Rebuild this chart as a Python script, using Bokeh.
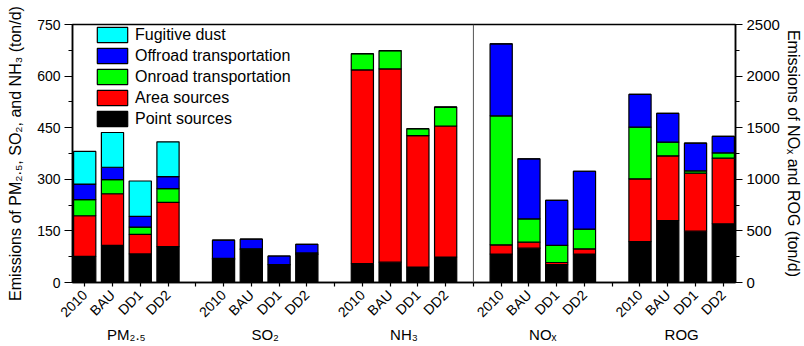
import math
from bokeh.plotting import figure
from bokeh.models import (ColumnDataSource, Range1d, LinearAxis, FixedTicker, Span,
                          Legend, LegendItem)
from bokeh.embed import file_html
from bokeh.resources import INLINE

# ---------------- data ----------------
scenarios = ["2010", "BAU", "DD1", "DD2"]
pollutants = ["PM\u2082.\u2085", "SO\u2082", "NH\u2083", "NO\u2093", "ROG"]
sources = ["Point sources", "Area sources", "Onroad transportation",
           "Offroad transportation", "Fugitive dust"]

# values per pollutant group (2010, BAU, DD1, DD2); PM2.5, SO2, NH3 on left axis, NOx, ROG on right axis
point_src = [76, 108, 83, 104,   66, 96, 52, 82,   55, 59, 45, 74,   275, 333, 174, 275,   397, 601, 497, 569]
area_src = [118, 150, 57, 129,   1, 1, 0, 1,       563, 562, 382, 381,  90, 58, 20, 51,     608, 626, 562, 636]
onroad = [47, 41, 21, 40,        3, 1, 0, 3,       47, 53, 20, 55,   1250, 226, 165, 191,   500, 133, 23, 51]
offroad = [45, 36, 31, 35,       53, 28, 25, 25,   0, 0, 0, 0,       698, 581, 436, 561,    317, 278, 268, 159]
fugitive = [95, 101, 103, 101,   0, 0, 0, 0,       0, 0, 0, 0,       0, 0, 0, 0,            0, 0, 0, 0]

left_ticks = [0, 150, 300, 450, 600, 750]
right_ticks = [0, 500, 1000, 1500, 2000, 2500]
n_left_groups = 3

colors = ["#000000", "#FF0000", "#00FF00", "#0000FF", "#00FFFF"]
FONT = "Liberation Sans"

# ---------------- layout helpers ----------------
n_sc = len(scenarios)
slot = n_sc + 1
xs = [g * slot + s for g in range(len(pollutants)) for s in range(n_sc)]
keys = ["point", "area", "onroad", "offroad", "fugitive"]
series = [point_src, area_src, onroad, offroad, fugitive]

nl = n_left_groups * n_sc
left_src = ColumnDataSource({"x": xs[:nl], **{k: v[:nl] for k, v in zip(keys, series)}})
right_src = ColumnDataSource({"x": xs[nl:], **{k: v[nl:] for k, v in zip(keys, series)}})

last_x = xs[-1]
p = figure(width=804, height=346, output_backend="svg", toolbar_location=None,
           x_range=Range1d(-0.44, last_x + 0.44),
           y_range=Range1d(left_ticks[0], left_ticks[-1]),
           min_border_left=72, min_border_right=68, min_border_top=24, min_border_bottom=64)
p.extra_y_ranges = {"r": Range1d(right_ticks[0], right_ticks[-1])}

p.xgrid.visible = False
p.ygrid.visible = False
p.outline_line_color = "black"
p.outline_line_width = 1.5
p.background_fill_color = "white"
p.border_fill_color = "white"

lr = p.vbar_stack(keys, x="x", width=0.8, source=left_src, fill_color=colors,
                  line_color="black", line_width=1.2)
rr = p.vbar_stack(keys, x="x", width=0.8, source=right_src, fill_color=colors,
                  line_color="black", line_width=1.2, y_range_name="r")

# separator between left-axis and right-axis groups
p.add_layout(Span(location=n_left_groups * slot - 1, dimension="height",
                  line_color="#555555", line_width=1))

# x axis (scenario labels)
all_slots = list(range(last_x + 1))
overrides = {}
for sl in all_slots:
    overrides[sl] = scenarios[sl % slot] if sl % slot < n_sc else ""
xa = p.below[0]
xa.ticker = FixedTicker(ticks=all_slots, minor_ticks=[])
xa.major_label_overrides = overrides
xa.major_label_orientation = math.pi / 4
xa.major_tick_out = 4
xa.major_tick_in = 0
xa.major_label_standoff = 6
xa.major_label_text_font = FONT
xa.major_label_text_font_size = "14px"
xa.major_label_text_color = "black"
xa.axis_line_color = "black"
xa.axis_line_width = 1.5
xa.major_tick_line_color = "black"
xa.major_tick_line_width = 1.2

# second x axis (pollutant group labels)
centers = [g * slot + (n_sc - 1) / 2 for g in range(len(pollutants))]
ga = LinearAxis(ticker=FixedTicker(ticks=centers, minor_ticks=[]),
                major_label_overrides={c: name for c, name in zip(centers, pollutants)})
ga.major_tick_out = 0
ga.major_tick_in = 0
ga.axis_line_color = None
ga.major_tick_line_color = None
ga.major_label_standoff = -3
ga.major_label_text_font = FONT
ga.major_label_text_font_size = "15px"
ga.major_label_text_color = "black"
p.add_layout(ga, "below")

# left axis
ya = p.yaxis[0]
ya.ticker = FixedTicker(ticks=left_ticks,
                        minor_ticks=[(a + b) / 2 for a, b in zip(left_ticks[:-1], left_ticks[1:])])
ya.major_tick_out = 8
ya.major_tick_in = 0
ya.minor_tick_out = 4
ya.minor_tick_in = 0
ya.major_label_standoff = 4
ya.major_label_text_font = FONT
ya.major_label_text_font_size = "14px"
ya.major_label_text_color = "black"
ya.axis_label = "Emissions of PM\u2082.\u2085, SO\u2082, and NH\u2083 (ton/d)"
ya.axis_label_text_font = FONT
ya.axis_label_text_font_size = "16px"
ya.axis_label_text_font_style = "normal"
ya.axis_label_text_color = "black"
ya.axis_label_standoff = 10
ya.axis_line_color = "black"
ya.axis_line_width = 1.5
ya.major_tick_line_width = 1.2
ya.minor_tick_line_width = 1.2

# right axis
ra = LinearAxis(y_range_name="r",
                ticker=FixedTicker(ticks=right_ticks,
                                   minor_ticks=[(a + b) / 2 for a, b in zip(right_ticks[:-1], right_ticks[1:])]))
ra.major_tick_out = 7
ra.major_tick_in = 0
ra.minor_tick_out = 4
ra.minor_tick_in = 0
ra.major_label_standoff = 4
ra.major_label_text_font = FONT
ra.major_label_text_font_size = "15px"
ra.major_label_text_color = "black"
ra.axis_label = "Emissions of NO\u2093 and ROG (ton/d)"
ra.axis_label_text_font = FONT
ra.axis_label_text_font_size = "16px"
ra.axis_label_text_font_style = "normal"
ra.axis_label_text_color = "black"
ra.axis_label_standoff = 2
ra.axis_line_color = "black"
ra.axis_line_width = 1.5
ra.major_tick_line_width = 1.2
ra.minor_tick_line_width = 1.2
p.add_layout(ra, "right")

# legend (top to bottom: fugitive ... point)
items = [LegendItem(label=sources[i], renderers=[lr[i]]) for i in reversed(range(len(sources)))]
legend = Legend(items=items, location=(21, 153), padding=0, margin=0, spacing=0,
                glyph_width=38, glyph_height=19, label_height=21, label_standoff=4,
                label_text_font=FONT, label_text_font_size="16px", label_text_color="black",
                border_line_alpha=0, background_fill_alpha=0)
p.add_layout(legend)

open("out.html", "w").write(file_html(p, INLINE))
